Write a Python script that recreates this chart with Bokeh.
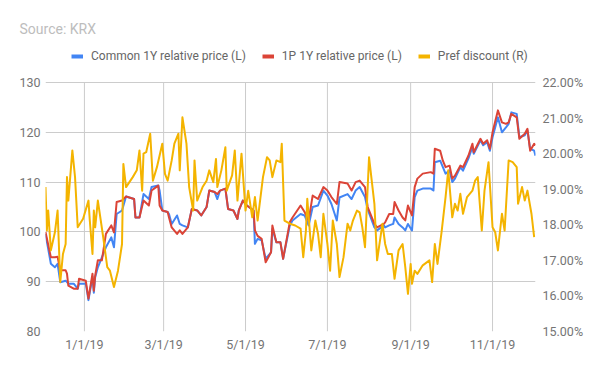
import pandas as pd
from bokeh.plotting import figure
from bokeh.models import (Range1d, LinearAxis, FixedTicker, PrintfTickFormatter,
                          Legend, LegendItem)
from bokeh.embed import file_html
from bokeh.resources import INLINE

# ---------------- data ----------------
price_dates = [
    "2018-12-03", "2018-12-07", "2018-12-10", "2018-12-12", "2018-12-14", "2018-12-18",
    "2018-12-19", "2018-12-20", "2018-12-24", "2018-12-27", "2018-12-28", "2019-01-02",
    "2019-01-04", "2019-01-07", "2019-01-08", "2019-01-09", "2019-01-11", "2019-01-14",
    "2019-01-17", "2019-01-21", "2019-01-23", "2019-01-25", "2019-01-29", "2019-02-01",
    "2019-02-07", "2019-02-08", "2019-02-11", "2019-02-14", "2019-02-18", "2019-02-20",
    "2019-02-25", "2019-02-26", "2019-02-28", "2019-03-04", "2019-03-05", "2019-03-07",
    "2019-03-11", "2019-03-13", "2019-03-15", "2019-03-19", "2019-03-22", "2019-03-26",
    "2019-03-29", "2019-04-02", "2019-04-04", "2019-04-08", "2019-04-10", "2019-04-12",
    "2019-04-16", "2019-04-18", "2019-04-22", "2019-04-25", "2019-04-26", "2019-04-29",
    "2019-05-02", "2019-05-07", "2019-05-08", "2019-05-10", "2019-05-13", "2019-05-16",
    "2019-05-20", "2019-05-21", "2019-05-24", "2019-05-27", "2019-05-29", "2019-06-03",
    "2019-06-05", "2019-06-11", "2019-06-14", "2019-06-17", "2019-06-20", "2019-06-24",
    "2019-06-28", "2019-07-01", "2019-07-04", "2019-07-08", "2019-07-10", "2019-07-16",
    "2019-07-19", "2019-07-22", "2019-07-25", "2019-07-29", "2019-07-31", "2019-08-05",
    "2019-08-07", "2019-08-12", "2019-08-13", "2019-08-16", "2019-08-19", "2019-08-20",
    "2019-08-23", "2019-08-26", "2019-08-28", "2019-08-30", "2019-09-02", "2019-09-04",
    "2019-09-06", "2019-09-10", "2019-09-16", "2019-09-18", "2019-09-19", "2019-09-23",
    "2019-09-25", "2019-09-27", "2019-09-30", "2019-10-02", "2019-10-04", "2019-10-08",
    "2019-10-10", "2019-10-14", "2019-10-17", "2019-10-18", "2019-10-23", "2019-10-25",
    "2019-10-28", "2019-10-30", "2019-11-01", "2019-11-05", "2019-11-08", "2019-11-11",
    "2019-11-13", "2019-11-15", "2019-11-19", "2019-11-21", "2019-11-25", "2019-11-27",
    "2019-11-29", "2019-12-02", "2019-12-03",
]
common_rel = [
    99.6, 93.6, 92.9, 93.6, 89.9, 90.2,
    89.9, 89.6, 89.6, 88.6, 89.6, 89.6,
    86.3, 91.0, 87.8, 90.9, 92.9, 94.9,
    96.9, 98.9, 96.9, 103.6, 104.3, 107.1,
    106.6, 102.9, 102.9, 107.6, 106.6, 109.0,
    109.3, 108.3, 104.3, 104.0, 103.6, 101.6,
    103.3, 101.6, 101.3, 100.9, 104.6, 104.3,
    103.3, 105.0, 108.3, 108.0, 106.6, 108.3,
    108.7, 104.6, 104.3, 102.6, 104.3, 106.3,
    105.3, 104.3, 97.6, 98.6, 98.3, 94.6,
    95.9, 100.6, 97.9, 97.9, 94.6, 101.3,
    102.3, 103.6, 103.3, 101.3, 105.0, 105.3,
    108.3, 107.3, 105.6, 102.3, 106.9, 107.6,
    106.6, 108.3, 109.0, 107.0, 104.5, 100.9,
    100.3, 101.3, 100.9, 101.3, 101.6, 102.9,
    101.6, 100.9, 100.3, 101.6, 100.3, 107.0,
    108.3, 108.7, 108.7, 108.3, 114.0, 114.3,
    113.0, 111.7, 112.3, 110.0, 110.7, 113.0,
    112.3, 114.7, 117.0, 115.7, 118.4, 117.4,
    118.0, 116.3, 119.0, 123.0, 120.0, 121.0,
    121.7, 124.0, 123.7, 119.0, 119.4, 120.4,
    116.7, 116.3, 115.3,
]
pref_rel = [
    100.0, 94.9, 94.9, 95.0, 92.3, 92.3,
    91.6, 89.2, 88.6, 88.6, 90.6, 90.2,
    86.6, 91.6, 88.2, 91.2, 94.3, 94.3,
    99.6, 101.3, 99.9, 106.0, 106.3, 107.1,
    106.6, 102.9, 102.9, 106.3, 105.3, 108.3,
    109.3, 105.3, 104.3, 104.0, 102.9, 100.9,
    99.6, 100.3, 99.6, 100.9, 104.6, 104.3,
    103.3, 105.0, 108.3, 108.0, 107.6, 108.3,
    108.7, 104.6, 104.3, 102.6, 104.3, 106.3,
    105.3, 104.3, 100.3, 99.2, 98.6, 93.9,
    95.9, 101.3, 97.9, 97.9, 94.6, 102.0,
    102.9, 105.3, 104.0, 102.3, 107.3, 106.6,
    109.0, 108.3, 107.0, 105.6, 110.0, 109.7,
    108.3, 110.0, 110.3, 109.0, 105.0, 101.6,
    100.9, 101.6, 101.9, 103.6, 103.6, 106.0,
    104.3, 102.9, 102.3, 105.3, 103.3, 109.0,
    110.7, 111.7, 112.0, 111.7, 116.7, 116.3,
    114.3, 113.0, 113.3, 110.7, 111.3, 113.3,
    113.0, 115.3, 117.7, 116.0, 118.7, 117.7,
    118.4, 116.7, 120.0, 124.4, 122.0, 121.7,
    122.0, 123.7, 123.0, 118.7, 119.7, 120.7,
    116.3, 117.7, 117.4,
]

disc_dates = [
    "2018-12-03", "2018-12-04", "2018-12-05", "2018-12-07", "2018-12-10", "2018-12-12",
    "2018-12-14", "2018-12-16", "2018-12-18", "2018-12-19", "2018-12-20", "2018-12-23",
    "2018-12-25", "2018-12-27", "2018-12-31", "2019-01-04", "2019-01-05", "2019-01-07",
    "2019-01-08", "2019-01-09", "2019-01-11", "2019-01-15", "2019-01-18", "2019-01-20",
    "2019-01-23", "2019-01-26", "2019-01-29", "2019-01-30", "2019-02-01", "2019-02-06",
    "2019-02-09", "2019-02-11", "2019-02-13", "2019-02-14", "2019-02-16", "2019-02-19",
    "2019-02-21", "2019-02-24", "2019-02-28", "2019-03-02", "2019-03-04", "2019-03-07",
    "2019-03-09", "2019-03-12", "2019-03-13", "2019-03-15", "2019-03-18", "2019-03-20",
    "2019-03-23", "2019-03-24", "2019-03-26", "2019-03-30", "2019-04-02", "2019-04-04",
    "2019-04-07", "2019-04-09", "2019-04-10", "2019-04-13", "2019-04-16", "2019-04-17",
    "2019-04-21", "2019-04-23", "2019-04-25", "2019-04-28", "2019-05-01", "2019-05-03",
    "2019-05-06", "2019-05-08", "2019-05-10", "2019-05-14", "2019-05-17", "2019-05-19",
    "2019-05-21", "2019-05-24", "2019-05-27", "2019-05-28", "2019-05-30", "2019-06-03",
    "2019-06-07", "2019-06-11", "2019-06-13", "2019-06-15", "2019-06-16", "2019-06-19",
    "2019-06-22", "2019-06-24", "2019-06-26", "2019-06-28", "2019-07-01", "2019-07-03",
    "2019-07-05", "2019-07-08", "2019-07-10", "2019-07-13", "2019-07-16", "2019-07-18",
    "2019-07-20", "2019-07-23", "2019-07-25", "2019-07-27", "2019-07-29", "2019-08-01",
    "2019-08-05", "2019-08-07", "2019-08-11", "2019-08-13", "2019-08-15", "2019-08-18",
    "2019-08-20", "2019-08-23", "2019-08-26", "2019-08-28", "2019-08-30", "2019-09-01",
    "2019-09-02", "2019-09-04", "2019-09-06", "2019-09-10", "2019-09-15", "2019-09-17",
    "2019-09-19", "2019-09-21", "2019-09-24", "2019-09-27", "2019-09-29", "2019-10-02",
    "2019-10-04", "2019-10-06", "2019-10-08", "2019-10-10", "2019-10-13", "2019-10-17",
    "2019-10-19", "2019-10-21", "2019-10-24", "2019-10-26", "2019-10-29", "2019-11-01",
    "2019-11-03", "2019-11-05", "2019-11-08", "2019-11-10", "2019-11-13", "2019-11-16",
    "2019-11-19", "2019-11-20", "2019-11-23", "2019-11-25", "2019-11-27", "2019-11-30",
    "2019-12-02",
]
pref_discount = [
    19.06, 17.84, 18.40, 17.28, 17.79, 18.40,
    16.39, 17.18, 17.46, 19.34, 18.68, 20.09,
    19.34, 17.93, 18.17, 18.68, 18.12, 17.18,
    18.40, 17.93, 18.68, 17.65, 16.81, 16.71,
    16.25, 16.71, 17.46, 19.71, 19.06, 19.34,
    19.53, 20.09, 18.96, 20.00, 20.04, 20.56,
    19.24, 19.62, 20.28, 19.43, 19.24, 19.81,
    20.28, 20.56, 19.53, 21.02, 20.28, 19.06,
    18.40, 19.81, 18.68, 19.06, 19.24, 19.53,
    19.20, 19.85, 19.06, 19.53, 20.18, 18.96,
    19.39, 20.09, 18.68, 20.00, 18.40, 18.96,
    18.21, 18.78, 18.12, 19.34, 19.90, 19.81,
    19.34, 19.81, 19.76, 20.28, 18.12, 18.03,
    17.98, 17.89, 17.09, 17.84, 18.73, 17.28,
    18.12, 17.75, 17.09, 18.31, 17.46, 16.71,
    18.12, 17.46, 16.53, 17.09, 18.03, 17.84,
    18.12, 18.40, 18.35, 17.93, 17.37, 19.90,
    18.59, 17.00, 18.03, 17.46, 17.18, 17.18,
    16.48, 17.28, 17.46, 16.81, 16.06, 16.90,
    16.34, 16.71, 16.62, 16.86, 17.00, 16.39,
    17.46, 16.90, 17.79, 18.78, 19.53, 18.21,
    18.59, 18.40, 18.87, 18.31, 18.78, 18.96,
    19.24, 19.34, 17.84, 18.96, 19.76, 17.93,
    17.79, 17.28, 18.31, 17.84, 19.81, 19.76,
    19.62, 18.59, 19.06, 18.68, 18.96, 18.31,
    17.65,
]

left_ticks = [80, 90, 100, 110, 120, 130]
right_ticks = [15, 16, 17, 18, 19, 20, 21, 22]
x_tick_dates = ["2019-01-01", "2019-03-01", "2019-05-01", "2019-07-01", "2019-09-01", "2019-11-01"]
x_tick_labels = ["1/1/19", "3/1/19", "5/1/19", "7/1/19", "9/1/19", "11/1/19"]
series_names = ["Common 1Y relative price (L)", "1P 1Y relative price (L)", "Pref discount (R)"]
source_text = "Source: KRX"

# ---------------- styling / layout ----------------
FONT = "Roboto"
BLUE, RED, YELLOW = "#4285F4", "#DB4437", "#F4B400"
GRID = "#CCCCCC"
LABEL = "#757575"

W, H = 600, 371
FRAME_LEFT, FRAME_RIGHT = 45, 535
FRAME_TOP, GRID_TOP, FRAME_BOTTOM = 40, 82, 331   # the axis span ends at GRID_TOP

pdates = pd.to_datetime(price_dates)
ddates = pd.to_datetime(disc_dates)
tick_dt = pd.to_datetime(x_tick_dates)

def to_ms(s):
    return (pd.Timestamp(s) - pd.Timestamp("1970-01-01")) // pd.Timedelta(milliseconds=1)

tick_ms = [int(to_ms(s)) for s in x_tick_dates]

# extend the value ranges so that the frame reaches the legend row,
# while min..max of each axis still spans GRID_TOP..FRAME_BOTTOM
span = FRAME_BOTTOM - GRID_TOP
extra = GRID_TOP - FRAME_TOP
l_lo, l_hi = left_ticks[0], left_ticks[-1]
r_lo, r_hi = right_ticks[0], right_ticks[-1]
l_top = l_hi + extra * (l_hi - l_lo) / span
r_top = r_hi + extra * (r_hi - r_lo) / span

p = figure(width=W, height=H, x_axis_type="datetime",
           x_range=Range1d(pd.Timestamp("2018-12-03"), pd.Timestamp("2019-12-03")),
           y_range=Range1d(l_lo, l_top),
           output_backend="svg", toolbar_location=None,
           min_border_left=FRAME_LEFT, min_border_right=W - FRAME_RIGHT,
           min_border_top=FRAME_TOP, min_border_bottom=H - FRAME_BOTTOM)
p.outline_line_color = None
p.background_fill_color = "white"
p.border_fill_color = "white"

p.title.text = source_text
p.title.align = "left"
p.title.offset = -26
p.title.text_font = FONT
p.title.text_font_size = "14px"
p.title.text_font_style = "normal"
p.title.text_color = "#BDBDBD"
p.title.standoff = 8

p.extra_y_ranges = {"pct": Range1d(r_lo, r_top)}

p.yaxis.ticker = FixedTicker(ticks=left_ticks)
p.xaxis.ticker = FixedTicker(ticks=tick_ms)
p.xaxis.major_label_overrides = {t: l for t, l in zip(tick_ms, x_tick_labels)}

ax_r = LinearAxis(y_range_name="pct", ticker=FixedTicker(ticks=right_ticks),
                  formatter=PrintfTickFormatter(format="%.2f%%"))
p.add_layout(ax_r, "right")

for ax in [p.xaxis[0], p.yaxis[0], ax_r]:
    ax.axis_line_color = None
    ax.major_tick_line_color = None
    ax.minor_tick_line_color = None
    ax.major_tick_out = 0
    ax.major_tick_in = 0
    ax.major_label_text_font = FONT
    ax.major_label_text_font_size = "12.5px"
    ax.major_label_text_color = LABEL
p.yaxis[0].major_label_standoff = 5
ax_r.major_label_standoff = 7
p.xaxis[0].major_label_standoff = 5

# horizontal grid from the left axis ticks; vertical grid drawn as segments
p.xgrid.visible = False
p.ygrid.grid_line_color = GRID
p.segment(x0=tick_dt, y0=[l_lo] * len(tick_dt), x1=tick_dt, y1=[l_hi] * len(tick_dt),
          line_color=GRID, line_width=1)

r_blue = p.line(pdates, common_rel, color=BLUE, line_width=2, line_join="round")
r_red = p.line(pdates, pref_rel, color=RED, line_width=2, line_join="round")
r_yel = p.line(ddates, pref_discount, color=YELLOW, line_width=2, line_join="round",
               y_range_name="pct")

# legend swatches: one invisible (NaN) point each, drawn thicker like the reference
nan = float("nan")
d_blue = p.line([pdates[0]], [nan], color=BLUE, line_width=4)
d_red = p.line([pdates[0]], [nan], color=RED, line_width=4)
d_yel = p.line([pdates[0]], [nan], color=YELLOW, line_width=4)

legend = Legend(items=[LegendItem(label=series_names[0], renderers=[d_blue]),
                       LegendItem(label=series_names[1], renderers=[d_red]),
                       LegendItem(label=series_names[2], renderers=[d_yel])],
                orientation="horizontal", location=(26, FRAME_BOTTOM - 56 - 7),
                glyph_width=12, glyph_height=14, label_height=14, label_standoff=8,
                spacing=16, padding=0, margin=0,
                border_line_color=None, background_fill_alpha=0,
                label_text_font=FONT, label_text_font_size="12px", label_text_color="#666666")
p.add_layout(legend)

open("out.html", "w").write(file_html(p, INLINE))
